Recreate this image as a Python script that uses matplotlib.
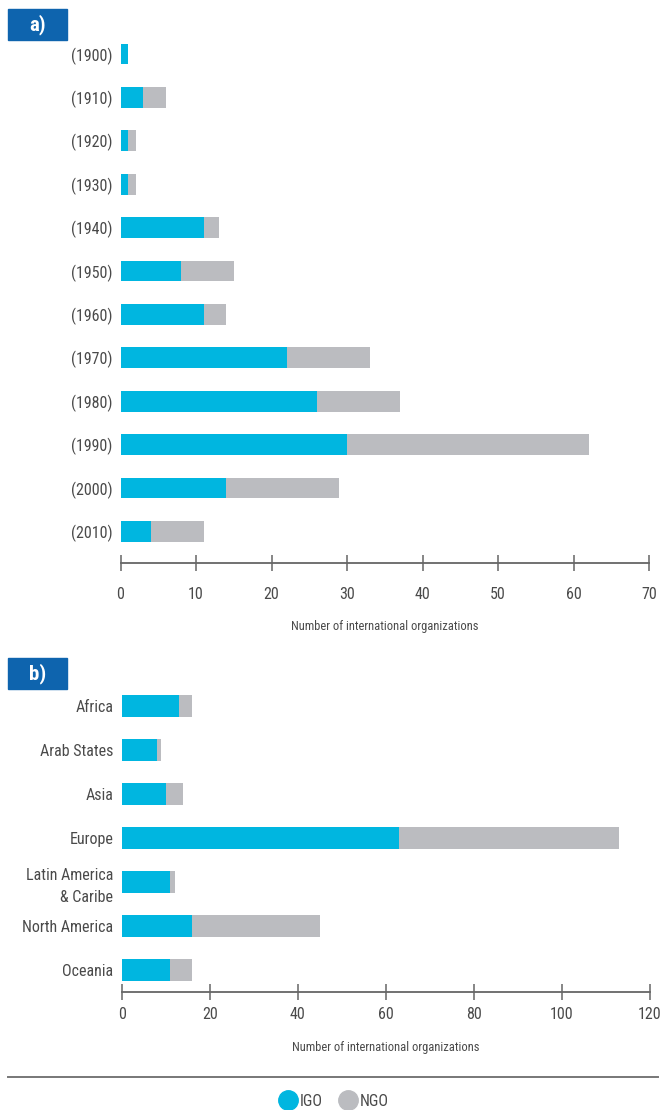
import numpy as np
import matplotlib
matplotlib.use("Agg")
import matplotlib.pyplot as plt
from matplotlib import font_manager
from matplotlib.lines import Line2D
from matplotlib.patches import Rectangle

# pick a narrow sans if one is around, otherwise plain DejaVu
narrow = None
names = {f.name for f in font_manager.fontManager.ttflist}
for cand in ["Liberation Sans Narrow", "Roboto Condensed", "Open Sans Condensed",
             "DejaVu Sans Condensed"]:
    if cand in names:
        narrow = cand
        break
if narrow is None:
    for f in font_manager.fontManager.ttflist:
        if f.stretch in ("condensed", "semi-condensed", "extra-condensed") and f.style == "normal":
            narrow = f.name
            plt.rcParams["font.stretch"] = f.stretch
            break
plt.rcParams["font.family"] = ([narrow] if narrow else []) + ["DejaVu Sans"]

# ---- data ----
decades = ["(1900)", "(1910)", "(1920)", "(1930)", "(1940)", "(1950)",
           "(1960)", "(1970)", "(1980)", "(1990)", "(2000)", "(2010)"]
igo_decade = [1, 3, 1, 1, 11, 8, 11, 22, 26, 30, 14, 4]
ngo_decade = [0, 3, 1, 1, 2, 7, 3, 11, 11, 32, 15, 7]

regions = ["Africa", "Arab States", "Asia", "Europe",
           "Latin America\n& Caribe", "North America", "Oceania"]
igo_region = [13, 8, 10, 63, 11, 16, 11]
ngo_region = [3, 1, 4, 50, 1, 29, 5]

IGO_COLOR = "#00b6e0"
NGO_COLOR = "#bbbcc0"
HEAD_COLOR = "#0e64ae"
TEXT_COLOR = "#4a4a4a"
AXIS_COLOR = "#666666"

W, H = 661, 1110
fig = plt.figure(figsize=(W / 100, H / 100), dpi=100)

LABEL_SIZE = 11.5 if narrow else 9.5


def add_panel(left, right, top, bottom, first_center, step):
    """axes placed in pixel coords; rows sit at first_center + i*step"""
    ax = fig.add_axes([left / W, 1 - bottom / H, (right - left) / W, (bottom - top) / H])
    ax.set_ylim((bottom - first_center) / step, (top - first_center) / step)
    return ax


def style(ax, xmax, xstep, tick_pad, label_pad):
    for s in ["top", "right", "left"]:
        ax.spines[s].set_visible(False)
    ax.spines["bottom"].set_color(AXIS_COLOR)
    ax.spines["bottom"].set_linewidth(1.3)
    ax.set_xlim(0, xmax)
    ax.set_xticks(np.arange(0, xmax + 1, xstep))
    ax.tick_params(axis="x", direction="inout", length=11, width=1.1,
                   color=AXIS_COLOR, labelsize=LABEL_SIZE, labelcolor=TEXT_COLOR, pad=tick_pad)
    ax.tick_params(axis="y", length=0, labelsize=LABEL_SIZE, labelcolor=TEXT_COLOR, pad=6)
    ax.set_xlabel("Number of international organizations", fontsize=9,
                  color=TEXT_COLOR, labelpad=label_pad)


def header(text, x0, y0, x1, y1):
    fig.patches.append(Rectangle((x0 / W, 1 - y1 / H), (x1 - x0) / W, (y1 - y0) / H,
                                 transform=fig.transFigure, color=HEAD_COLOR))
    fig.text((x0 + x1) / 2 / W, 1 - (y0 + y1) / 2 / H, text, color="white",
             fontsize=15, fontweight="bold", ha="center", va="center")


# a) by decade of founding
ax_a = add_panel(120.5, 649, 30, 563, 54, 43.4)
ya = np.arange(len(decades))
ax_a.barh(ya, igo_decade, height=0.48, color=IGO_COLOR)
ax_a.barh(ya, ngo_decade, left=igo_decade, height=0.48, color=NGO_COLOR)
ax_a.set_yticks(ya)
ax_a.set_yticklabels(decades)
style(ax_a, 70, 10, tick_pad=12, label_pad=13)
header("a)", 8, 9, 67, 40)

# b) by region
ax_b = add_panel(121.8, 650, 685, 992, 706, 44)
yb = np.arange(len(regions))
ax_b.barh(yb, igo_region, height=0.49, color=IGO_COLOR)
ax_b.barh(yb, ngo_region, left=igo_region, height=0.49, color=NGO_COLOR)
ax_b.set_yticks(yb)
ax_b.set_yticklabels(regions, linespacing=1.55)
style(ax_b, 120, 20, tick_pad=5, label_pad=14)
header("b)", 8, 658, 67, 689)

# separator and legend
fig.add_artist(Line2D([8 / W, 658 / W], [1 - 1077 / H, 1 - 1077 / H],
                      transform=fig.transFigure, color="#777777", lw=1.4))
handles = [Line2D([], [], marker="o", ls="", markersize=14, color=IGO_COLOR, label="IGO"),
           Line2D([], [], marker="o", ls="", markersize=14, color=NGO_COLOR, label="NGO")]
leg = fig.legend(handles=handles, loc="center", bbox_to_anchor=(0.505, 1 - 1101 / H),
                 ncol=2, frameon=False, fontsize=11.5, handletextpad=0.2,
                 columnspacing=1.0, handlelength=1.1, borderpad=0)
for t in leg.get_texts():
    t.set_color(TEXT_COLOR)

fig.savefig("out.png", dpi=100)
